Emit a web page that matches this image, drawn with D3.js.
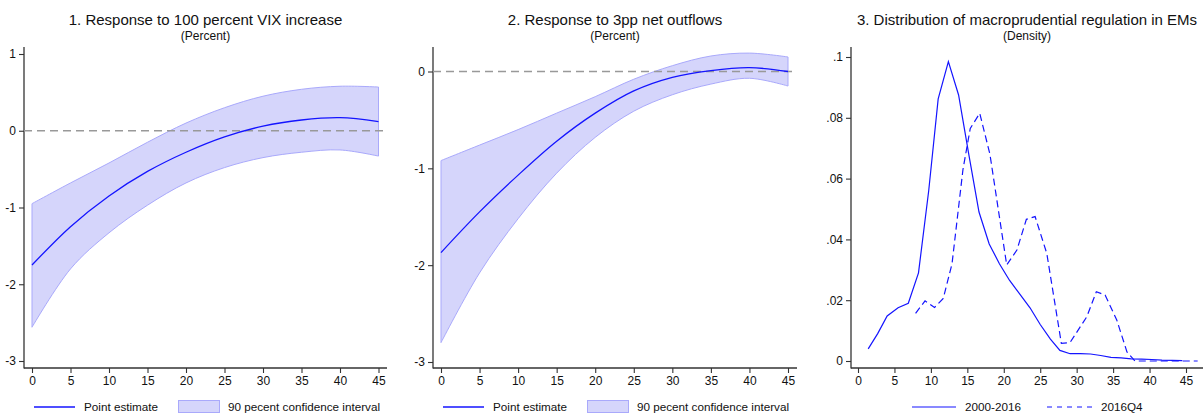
<!DOCTYPE html>
<html>
<head>
<meta charset="utf-8">
<script src="https://cdn.jsdelivr.net/npm/d3@7"></script>
<style>
  body { margin: 0; background: #fff; }
  svg { font-family: "Liberation Sans", Arial, sans-serif; }
</style>
</head>
<body>
<script>
// horizons for the impulse responses
var horizons = [0, 5, 10, 15, 20, 25, 30, 35, 40, 45];

// 1. response to 100 percent VIX increase
var vixPoint = [-1.75, -1.25, -0.85, -0.53, -0.28, -0.08, 0.06, 0.14, 0.17, 0.12];
var vixUpper = [-0.95, -0.68, -0.42, -0.15, 0.10, 0.30, 0.45, 0.54, 0.58, 0.57];
var vixLower = [-2.56, -1.80, -1.33, -0.97, -0.68, -0.48, -0.35, -0.28, -0.25, -0.33];

// 2. response to 3pp net outflows
var flowPoint = [-1.87, -1.45, -1.07, -0.72, -0.43, -0.20, -0.06, 0.01, 0.04, 0.00];
var flowUpper = [-0.92, -0.76, -0.60, -0.43, -0.26, -0.08, 0.06, 0.16, 0.19, 0.15];
var flowLower = [-2.80, -2.08, -1.52, -1.05, -0.68, -0.41, -0.24, -0.13, -0.07, -0.15];

// 3. density of macroprudential regulation index
var dens0016X = [1.4, 2.7, 4.0, 5.5, 6.9, 8.3, 9.7, 11.0, 12.4, 13.8, 15.2, 16.6, 18.0, 19.4, 20.8, 22.2,
                 23.6, 25.0, 26.4, 27.7, 29.1, 30.5, 31.9, 33.3, 34.7, 36.1, 37.5, 38.9, 40.3, 41.7, 43.1, 44.5];
var dens0016Y = [.004, .009, .0148, .0175, .019, .029, .056, .0862, .0985, .0875, .068, .049, .0385, .032, .0265, .022,
                 .0175, .012, .0072, .0035, .0024, .0024, .0023, .0018, .0012, .0010, .0007, .0006, .0005, .0003, .0002, .0001];
var densQ4X = [7.9, 9.2, 10.5, 11.7, 12.9, 14.4, 15.4, 16.7, 18.1, 20.4, 21.8, 23.1, 24.3, 25.9, 27.9, 29.1,
               31.4, 32.7, 33.9, 35.5, 36.9, 38.0, 40.0, 42.0, 44.0, 46.6];
var densQ4Y = [.0157, .0198, .0176, .0206, .032, .063, .0765, .0815, .068, .0316, .0365, .0466, .0475, .0354, .0058, .0061,
               .0146, .0228, .0217, .0135, .003, 0, 0, 0, 0, 0];

var xTicks = [0, 5, 10, 15, 20, 25, 30, 35, 40, 45];
var titles = ["1. Response to 100 percent VIX increase", "2. Response to 3pp net outflows",
              "3. Distribution of macroprudential regulation in EMs"];
var subtitles = ["(Percent)", "(Percent)", "(Density)"];
var irfLegend = ["Point estimate", "90 pecent confidence interval"];
var densLegend = ["2000-2016", "2016Q4"];

var width = 1203, height = 413;
var svg = d3.select("body").append("svg")
    .attr("width", width)
    .attr("height", height);

var blue = "#1414ff",
    bandFill = "#d5d5fb",
    bandStroke = "#a9a9fb",
    axisCol = "#333";

// plain hyphen for negatives, like the original
function plain(d) { return String(d); }

// draws the frame of one panel: title, axes and returns the scales
function drawFrame(p) {
    var g = svg.append("g");
    var x = d3.scaleLinear().domain([0, 45]).range([p.x0, p.x45]);
    var y = d3.scaleLinear().domain(p.yDom).range(p.yRange);
    var cx = (p.left + p.right) / 2;

    g.append("text").attr("x", cx).attr("y", 25)
        .attr("text-anchor", "middle").attr("font-size", "15px").attr("fill", "#111")
        .text(p.title);
    g.append("text").attr("x", cx).attr("y", 40)
        .attr("text-anchor", "middle").attr("font-size", "12px").attr("fill", "#111")
        .text(p.subtitle);

    var yAxis = g.append("g").attr("transform", "translate(" + p.left + ",0)")
        .call(d3.axisLeft(y).tickValues(p.yTicks).tickSize(5).tickPadding(3).tickFormat(p.yFormat));
    var xAxis = g.append("g").attr("transform", "translate(0," + p.bottom + ")")
        .call(d3.axisBottom(x).tickValues(xTicks).tickSize(5).tickPadding(3).tickFormat(plain));
    [yAxis, xAxis].forEach(function(a) {
        a.select(".domain").remove();
        a.selectAll("line").attr("stroke", axisCol).attr("stroke-width", 1.1);
        a.selectAll("text").attr("font-size", "12px").attr("fill", "#111")
            .attr("font-family", "Liberation Sans, Arial, sans-serif");
    });

    g.append("line").attr("x1", p.left).attr("x2", p.left).attr("y1", 47).attr("y2", p.bottom + 0.5)
        .attr("stroke", axisCol).attr("stroke-width", 1.3);
    g.append("line").attr("x1", p.left).attr("x2", p.right).attr("y1", p.bottom).attr("y2", p.bottom)
        .attr("stroke", axisCol).attr("stroke-width", 1.3);

    return {g: g, x: x, y: y};
}

function drawIrf(p, point, upper, lower) {
    var f = drawFrame(p);
    var rows = horizons.map(function(h, i) { return {h: h, m: point[i], u: upper[i], l: lower[i]}; });

    var area = d3.area().curve(d3.curveCatmullRom)
        .x(function(d) { return f.x(d.h); })
        .y0(function(d) { return f.y(d.l); })
        .y1(function(d) { return f.y(d.u); });
    f.g.insert("path", ":first-child").datum(rows)
        .attr("d", area)
        .attr("fill", bandFill).attr("stroke", bandStroke).attr("stroke-width", 1);

    f.g.append("line")
        .attr("x1", p.left).attr("x2", p.right)
        .attr("y1", f.y(0)).attr("y2", f.y(0))
        .attr("stroke", "#999").attr("stroke-width", 1.4).attr("stroke-dasharray", "8,5");

    var line = d3.line().curve(d3.curveCatmullRom)
        .x(function(d) { return f.x(d.h); })
        .y(function(d) { return f.y(d.m); });
    f.g.append("path").datum(rows)
        .attr("d", line).attr("fill", "none").attr("stroke", blue).attr("stroke-width", 1.3);

    // legend
    var ly = 407;
    f.g.append("line").attr("x1", p.left + 10).attr("x2", p.left + 51).attr("y1", ly).attr("y2", ly)
        .attr("stroke", blue).attr("stroke-width", 1.3);
    f.g.append("text").attr("x", p.left + 60).attr("y", ly + 4).attr("font-size", "11.7px").attr("fill", "#111")
        .text(irfLegend[0]);
    f.g.append("rect").attr("x", p.left + 154.5).attr("y", ly - 6.5).attr("width", 41).attr("height", 12)
        .attr("fill", bandFill).attr("stroke", bandStroke).attr("stroke-width", 1);
    f.g.append("text").attr("x", p.left + 204).attr("y", ly + 4).attr("font-size", "11.7px").attr("fill", "#111")
        .text(irfLegend[1]);
}

drawIrf({left: 24, right: 387, bottom: 368, x0: 32, x45: 378.5,
         yDom: [-3, 1], yRange: [361, 54], yTicks: [-3, -2, -1, 0, 1], yFormat: plain,
         title: titles[0], subtitle: subtitles[0]}, vixPoint, vixUpper, vixLower);

drawIrf({left: 433, right: 797, bottom: 368, x0: 441, x45: 788,
         yDom: [-3, 0], yRange: [362, 71.5], yTicks: [-3, -2, -1, 0], yFormat: plain,
         title: titles[1], subtitle: subtitles[1]}, flowPoint, flowUpper, flowLower);

// density panel
(function() {
    var p = {left: 851, right: 1203, bottom: 368, x0: 858, x45: 1186,
             yDom: [0, 0.1], yRange: [361, 57], yTicks: [0, .02, .04, .06, .08, .1],
             yFormat: function(d) { return d === 0 ? "0" : d3.format(".2~f")(d).replace(/^0/, ""); },
             title: titles[2], subtitle: subtitles[2]};
    var f = drawFrame(p);
    var line = d3.line()
        .x(function(d) { return f.x(d[0]); })
        .y(function(d) { return f.y(d[1]); });

    f.g.append("path").datum(d3.zip(dens0016X, dens0016Y))
        .attr("d", line).attr("fill", "none").attr("stroke", blue).attr("stroke-width", 1.2);
    f.g.append("path").datum(d3.zip(densQ4X, densQ4Y))
        .attr("d", line).attr("fill", "none").attr("stroke", blue).attr("stroke-width", 1.2)
        .attr("stroke-dasharray", "7,4");

    var ly = 407;
    f.g.append("line").attr("x1", 912).attr("x2", 956).attr("y1", ly).attr("y2", ly)
        .attr("stroke", blue).attr("stroke-width", 1.2);
    f.g.append("text").attr("x", 965).attr("y", ly + 4).attr("font-size", "11.7px").attr("fill", "#111")
        .text(densLegend[0]);
    f.g.append("line").attr("x1", 1047).attr("x2", 1092).attr("y1", ly).attr("y2", ly)
        .attr("stroke", blue).attr("stroke-width", 1.2).attr("stroke-dasharray", "5,5");
    f.g.append("text").attr("x", 1101).attr("y", ly + 4).attr("font-size", "11.7px").attr("fill", "#111")
        .text(densLegend[1]);
})();
</script>
</body>
</html>
